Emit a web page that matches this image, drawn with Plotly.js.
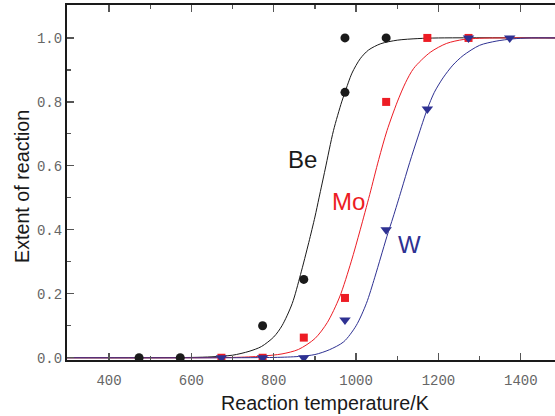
<!DOCTYPE html>
<html>
<head>
<meta charset="utf-8">
<script src="https://cdn.plot.ly/plotly-3.0.1.min.js"></script>
<style>
  html, body { margin: 0; padding: 0; background: #fff; }
  #chart { width: 555px; height: 416px; }
</style>
</head>
<body>
<div id="chart"></div>
<script>
// Measured extent of reaction (points)
const beT = [473, 573, 773, 873, 973, 973, 1073];
const beV = [0.0, 0.0, 0.10, 0.245, 0.83, 1.0, 1.0];

const moT = [673, 773, 873, 973, 1073, 1173, 1273];
const moV = [0.0, 0.0, 0.063, 0.187, 0.80, 1.0, 1.0];

const wT = [673, 773, 873, 973, 1073, 1173, 1273, 1373];
const wV = [0.0, 0.0, 0.0, 0.118, 0.40, 0.778, 1.0, 1.0];

// Fitted curves (sampled)
const beFitT = [298, 600, 650, 700, 740, 770, 800, 820, 845, 865, 885, 900, 910, 925, 945, 965, 973, 990, 1010, 1030, 1060, 1100, 1150, 1200, 1483];
const beFitV = [0.0, 0.001, 0.003, 0.008, 0.02, 0.035, 0.065, 0.10, 0.17, 0.26, 0.36, 0.44, 0.50, 0.59, 0.71, 0.80, 0.83, 0.89, 0.935, 0.962, 0.982, 0.993, 0.998, 1.0, 1.0];

const moFitT = [298, 700, 770, 820, 860, 900, 930, 960, 988, 1010, 1033, 1055, 1075, 1100, 1120, 1140, 1180, 1220, 1260, 1300, 1350, 1483];
const moFitV = [0.0, 0.001, 0.005, 0.012, 0.026, 0.06, 0.11, 0.19, 0.30, 0.40, 0.51, 0.62, 0.71, 0.80, 0.86, 0.905, 0.955, 0.983, 0.995, 0.999, 1.0, 1.0];

const wFitT = [298, 800, 860, 900, 935, 970, 1000, 1025, 1045, 1060, 1075, 1090, 1110, 1130, 1150, 1173, 1190, 1211, 1235, 1260, 1300, 1340, 1380, 1420, 1483];
const wFitV = [0.0, 0.001, 0.004, 0.01, 0.025, 0.05, 0.10, 0.17, 0.25, 0.315, 0.38, 0.44, 0.524, 0.61, 0.69, 0.778, 0.83, 0.875, 0.915, 0.945, 0.977, 0.99, 0.997, 1.0, 1.0];

const xTickVals = [400, 600, 800, 1000, 1200, 1400];
const yTickVals = [0.0, 0.2, 0.4, 0.6, 0.8, 1.0];

const BLACK = '#1a1a1a';
const RED = '#ed1c24';
const BLUE = '#2e3192';

function fitLine(x, y, color) {
  return { x: x, y: y, type: 'scatter', mode: 'lines',
           line: { color: color, width: 1, shape: 'spline', smoothing: 0.8 },
           hoverinfo: 'skip' };
}
function points(x, y, color, symbol, size) {
  return { x: x, y: y, type: 'scatter', mode: 'markers',
           marker: { color: color, symbol: symbol, size: size, line: { width: 0 } } };
}

const traces = [
  fitLine(beFitT, beFitV, BLACK),
  fitLine(moFitT, moFitV, RED),
  fitLine(wFitT, wFitV, BLUE),
  points(beT, beV, BLACK, 'circle', 9),
  points(moT, moV, RED, 'square', 8),
  points(wT, wV, BLUE, 'triangle-down', 10)
];

const tickFont = { family: 'Liberation Mono, monospace', size: 14, color: '#666' };
const titleFont = { family: 'Liberation Sans, Arial, sans-serif', size: 19.7, color: '#1a1a1a' };
const labelFont = (c) => ({ family: 'Liberation Sans, Arial, sans-serif', size: 24, color: c });

const layout = {
  width: 555, height: 416,
  margin: { l: 67, r: 0, t: 5, b: 56 },
  paper_bgcolor: '#fff', plot_bgcolor: '#fff',
  showlegend: false,
  xaxis: {
    range: [298, 1483], showgrid: false, zeroline: false,
    showline: true, linecolor: BLACK, linewidth: 2, mirror: 'ticks',
    ticks: 'inside', ticklen: 7, tickwidth: 1.2, tickcolor: '#555',
    tickvals: xTickVals, ticktext: xTickVals.map(String),
    tickfont: tickFont, ticklabelstandoff: 6,
    minor: { dtick: 100, tick0: 300, ticks: 'inside', ticklen: 4, tickwidth: 1.2, tickcolor: '#555', showgrid: false }
  },
  yaxis: {
    range: [-0.007, 1.103], showgrid: false, zeroline: false,
    showline: true, linecolor: BLACK, linewidth: 2,
    ticks: 'inside', ticklen: 7, tickwidth: 1.2, tickcolor: '#555',
    tickvals: yTickVals, ticktext: yTickVals.map(v => v.toFixed(1)),
    tickfont: tickFont, ticklabelstandoff: 0,
    minor: { dtick: 0.1, tick0: 0, ticks: 'inside', ticklen: 4, tickwidth: 1.2, tickcolor: '#555', showgrid: false }
  },
  annotations: [
    { text: 'Reaction temperature/K', xref: 'paper', yref: 'paper',
      x: (325 - 67) / 488, y: -43 / 355, xanchor: 'center', yanchor: 'middle',
      showarrow: false, font: titleFont },
    { text: 'Extent of reaction', xref: 'paper', yref: 'paper',
      x: (22 - 67) / 488, y: (360 - 187) / 355, xanchor: 'center', yanchor: 'middle',
      textangle: -90, showarrow: false, font: titleFont },
    { text: 'Be', x: 871, y: 0.62, showarrow: false, font: labelFont(BLACK) },
    { text: 'Mo', x: 981, y: 0.49, showarrow: false, font: labelFont(RED) },
    { text: 'W', x: 1129.5, y: 0.355, showarrow: false, font: labelFont(BLUE) }
  ]
};

Plotly.newPlot('chart', traces, layout, { staticPlot: true, displayModeBar: false });
</script>
</body>
</html>
